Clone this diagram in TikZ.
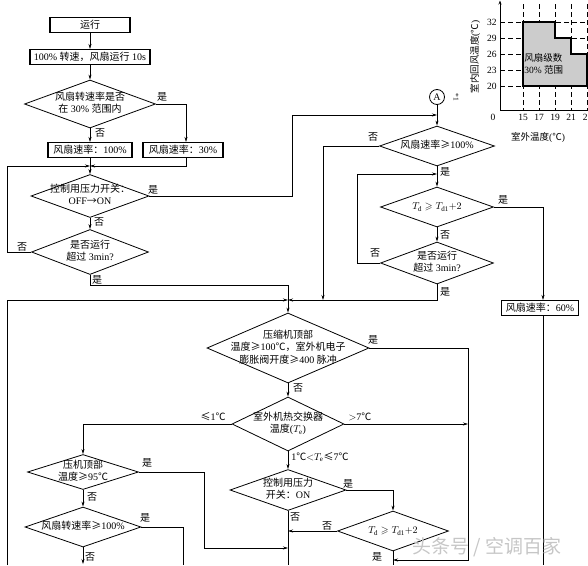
\documentclass[tikz,border=0pt]{standalone}
\usepackage{amssymb}
\usepackage{fontspec}
\setmainfont{Liberation Serif}
\newfontfamily\zhf{Noto Sans CJK SC}
\newcommand\zh[1]{{\zhf #1}}
\newcommand\fs{\fontsize{10}{12.5}\selectfont}
\newcommand\fd{\fontsize{10}{12.5}\selectfont}
\newcommand\dtx[1]{\makebox[0pt]{\renewcommand\arraystretch{1}\begin{tabular}{@{}c@{}}#1\end{tabular}}}
\usetikzlibrary{shapes.geometric,arrows.meta}
\begin{document}
\begin{tikzpicture}[x=1pt,y=-1pt, line width=0.65pt,
  box/.style={draw, line width=1.1pt, inner sep=0pt, minimum height=15pt, font=\fs},
  dia/.style={draw, diamond, inner sep=0pt, line width=0.8pt, font=\fd},
  arr/.style={-{Stealth[length=5pt,width=3pt]}},
  lab/.style={inner sep=0pt, font=\fs},
  ch/.style={inner sep=0pt, font=\fontsize{9.5}{11.5}\selectfont},
  gridl/.style={line width=0.5pt, dash pattern=on 5pt off 3pt},
]
\useasboundingbox (0,0) rectangle (588,565);

% ---------- chart ----------
\foreach \yy in {22,38,54,70,86} \draw[gridl] (500,\yy) -- (590,\yy);
\foreach \xx in {523,539,555,571,587} \draw[gridl] (\xx,4) -- (\xx,110);
\draw[fill=gray!40, line width=1.1pt] (523,86) -- (523,22) -- (555,22) -- (555,38) -- (571,38) -- (571,54) -- (587,54) -- (587,86) -- cycle;
\draw[line width=0.8pt, -{Stealth[length=4pt,width=3pt]}] (500,110) -- (500,0.5);
\draw[line width=0.8pt] (500,110) -- (590,110);
\node[ch, anchor=east] (y32) at (497,22) {32};
\node[ch, anchor=east] (y29) at (497,38) {29};
\node[ch, anchor=east] (y26) at (497,54) {26};
\node[ch, anchor=east] (y23) at (497,70) {23};
\node[ch, anchor=east] (y20) at (497,86) {20};
\node[ch] (x0) at (493,117) {0};
\node[ch] (x15) at (523,117) {15};
\node[ch] (x17) at (539,117) {17};
\node[ch] (x19) at (555,117) {19};
\node[ch] (x21) at (571,117) {21};
\node[ch, anchor=east] (x23) at (588,117) {2};
\node[ch] (xt) at (538,137) {\zh{室外温度}(\zh{℃})};
\node[ch, rotate=90] (yt) at (475,57) {\zh{室内回风温度}(\zh{℃})};
\node[ch, align=left, anchor=west] (rg) at (524,64) {\zh{风扇级数}\\30\% \zh{范围}};

% ---------- nodes ----------
\node[box, minimum width=80pt] (b1) at (90,25) {\zh{运行}};
\node[box, minimum width=120pt] (b2) at (90,57) {100\% \zh{转速，风扇运行} 10s};
\node[dia, minimum width=131pt, minimum height=48pt] (d1) at (90,104) {\dtx{\zh{风扇转速率是否}\\\zh{在} 30\% \zh{范围内}}};
\node[box, minimum width=84pt] (b3) at (90,150) {\zh{风扇速率：}100\%};
\node[box, minimum width=80pt] (b4) at (183,150) {\zh{风扇速率：}30\%};
\node[dia, minimum width=118pt, minimum height=43pt] (d2) at (90,196) {\dtx{\zh{控制用压力开关：}\\OFF\zh{→}ON}};
\node[dia, minimum width=117pt, minimum height=45pt] (d3) at (90,252) {\dtx{\zh{是否运行}\\\zh{超过} 3min?}};

\node[draw, circle, minimum size=15pt, inner sep=0pt, line width=0.8pt, font=\fs] (A) at (437,97) {A};
\node[inner sep=0pt, font=\fontsize{7.5}{8}\selectfont, rotate=-90] (star) at (456,97) {*1};
\node[dia, minimum width=115pt, minimum height=40pt] (d4) at (437,146) {\dtx{\zh{风扇速率≥}100\%}};
\node[dia, minimum width=113pt, minimum height=40pt] (d5) at (437,207) {\dtx{$T_{\mathrm{d}}\geqslant T_{\mathrm{d1}}{+}2$}};
\node[dia, minimum width=113pt, minimum height=42pt] (d6) at (437,263) {\dtx{\zh{是否运行}\\\zh{超过} 3min?}};
\node[box, minimum width=77pt] (b5) at (540,308) {\zh{风扇速率：}60\%};

\node[dia, minimum width=162pt, minimum height=70pt] (d7) at (288,348) {\dtx{\zh{压缩机顶部}\\\zh{温度≥}100\zh{℃，室外机电子}\\\zh{膨胀阀开度≥}400 \zh{脉冲}}};
\node[dia, minimum width=112pt, minimum height=54pt] (d8) at (288,424) {\dtx{\zh{室外机热交换器}\\\zh{温度}($T_{\mathrm{e}}$)}};
\node[dia, minimum width=116pt, minimum height=41pt] (d9) at (288,490) {\dtx{\zh{控制用压力}\\\zh{开关：}ON}};
\node[dia, minimum width=111pt, minimum height=40pt] (d10) at (393,531) {\dtx{$T_{\mathrm{d}}\geqslant T_{\mathrm{d1}}{+}2$}};
\node[dia, minimum width=111pt, minimum height=35pt] (d11) at (83,472) {\dtx{\zh{压机顶部}\\\zh{温度≥}95\zh{℃}}};
\node[dia, minimum width=116pt, minimum height=40pt] (d12) at (83,527) {\dtx{\zh{风扇转速率≥}100\%}};

% ---------- coordinates ----------
\coordinate (j1) at (90,166);
\coordinate (j2) at (288,300);
\coordinate (a1) at (437,115);
\coordinate (lb) at (7,565);

% ---------- connectors ----------
\draw[arr] (b1.south) -- (b2.north);
\draw[arr] (b2.south) -- (d1.north);
\draw[arr] (d1.south) -- (b3.north);
\draw[arr] (d1.east) -| ([xshift=3pt]b4.north);
\draw (b3.south) -- (j1);
\draw[arr] ([xshift=3pt]b4.south) |- (j1);
\draw[arr] (j1) -- (d2.north);
\draw[arr] (d3.west) -- (7,252) -- (7,166) -- (j1);
\draw[arr] (d2.south) -- (d3.north);
\draw[arr] (d2.east) -- (292,196) -- (292,115) -- (a1);
\draw[arr] (A.south) -- (d4.north);
\draw (d3.south) -- (90,285) -| (j2);
\draw[arr] (lb) -- (7,300) -- (j2);
\draw[arr] (d6.south) -- (437,300) -- (j2);
\draw[arr] (j2) -- (d7.north);
\draw[arr] (d4.west) -- (323,146) -- (323,300);
\draw[arr] (d4.south) -- (d5.north);
\draw[arr] (d6.west) -- (357,263) -- (357,174) -- (437,174);
\draw[arr] (d5.east) -| ([xshift=3pt]b5.north);
\draw[arr] (d5.south) -- (d6.north);
\draw ([xshift=3pt]b5.south) -- (543,565);
\draw[arr] (d7.east) -- (468,348) -- (468,560) -- (393,560);
\draw[arr] (d7.south) -- (d8.north);
\draw[arr] (d8.west) -| (d11.north);
\draw[arr] (d8.east) -- (468,424);
\draw[arr] (d8.south) -- (d9.north);
\draw[arr] (d9.east) -| (d10.north);
\draw (d9.south) -- (288,565);
\draw[arr] (d10.west) -- (288,531);
\draw (d10.south) -- (393,565);
\draw[arr] (d11.east) -- (204,472) -- (204,548) -- (288,548);
\draw[arr] (d11.south) -- (d12.north);
\draw (d12.east) -- (183,527) -- (183,565);
\draw[arr] (d12.south) -- (83,564);

% ---------- labels ----------
\node[lab] (l1) at (100,133) {\zh{否}};
\node[lab] (l2) at (162,97) {\zh{是}};
\node[lab] (l3) at (99,222) {\zh{否}};
\node[lab] (l4) at (153,190) {\zh{是}};
\node[lab] (l5) at (22,247) {\zh{否}};
\node[lab] (l6) at (97,280) {\zh{是}};
\node[lab] (l7) at (373,137) {\zh{否}};
\node[lab] (l8) at (445,172) {\zh{是}};
\node[lab] (l9) at (503,200) {\zh{是}};
\node[lab] (l10) at (445,235) {\zh{否}};
\node[lab] (l11) at (375,253) {\zh{否}};
\node[lab] (l12) at (445,292) {\zh{是}};
\node[lab] (l13) at (373,340) {\zh{是}};
\node[lab] (l14) at (298,388) {\zh{否}};
\node[lab] (l15) at (213,417) {\zh{≤}1\zh{℃}};
\node[lab] (l16) at (360,417) {$>$7\zh{℃}};
\node[lab, anchor=west] (l17) at (291,457) {1\zh{℃}$<$$T_{\mathrm{e}}$\zh{≤}7\zh{℃}};
\node[lab] (l18) at (348,484) {\zh{是}};
\node[lab] (l19) at (295,517) {\zh{否}};
\node[lab] (l20) at (327,526) {\zh{否}};
\node[lab] (l21) at (377,557) {\zh{是}};
\node[lab] (l22) at (147,463) {\zh{是}};
\node[lab] (l23) at (92,497) {\zh{否}};
\node[lab] (l24) at (145,518) {\zh{是}};
\node[lab] (l25) at (90,557) {\zh{否}};

% watermark
\node[inner sep=0pt, font=\fontsize{19}{20}\selectfont, text=gray!45] (wm) at (487,547) {\zh{头条号 / 空调百家}};
\end{tikzpicture}
\end{document}
